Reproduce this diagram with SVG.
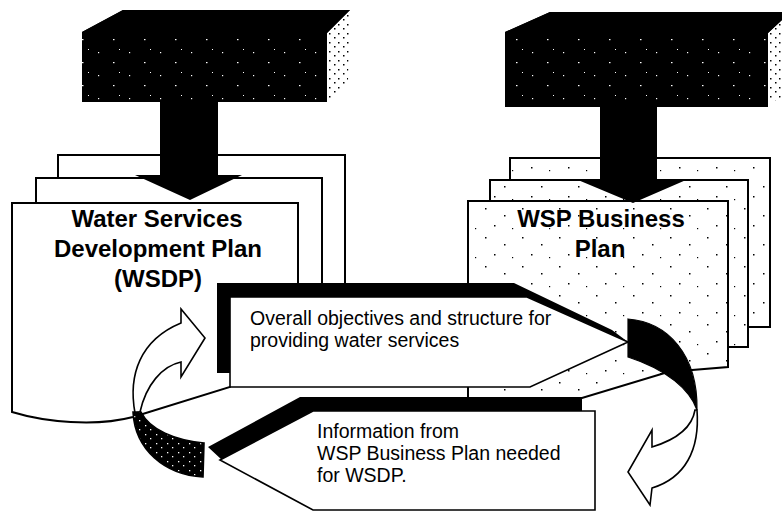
<svg xmlns="http://www.w3.org/2000/svg" width="782" height="513" viewBox="0 0 782 513">
<style>
.page{fill:#fff;stroke:#000;stroke-width:2}
.spage{fill:url(#stipple);stroke:#000;stroke-width:2}
.title{font-family:"Liberation Sans",Arial,sans-serif;font-weight:bold;font-size:24px;fill:#000;text-anchor:middle}
.label{font-family:"Liberation Sans",Arial,sans-serif;font-size:19.5px;fill:#000}
.shadow{fill:#000}
.face{fill:#fff;stroke:#000;stroke-width:1.6;stroke-linejoin:miter}
.arr{fill:#fff;stroke:#000;stroke-width:1.6;stroke-linejoin:miter}
.tail{fill:url(#specks2);stroke:#000;stroke-width:1.6}
</style>
<defs>
<pattern id="specks" width="31" height="23" patternUnits="userSpaceOnUse">
<rect width="31" height="23" fill="#000"/>
<rect x="5" y="6" width="1.2" height="1.2" fill="#fff"/>
<rect x="20" y="16" width="1.5" height="1.2" fill="#fff"/>
<rect x="26" y="3" width="1" height="1" fill="#fff"/>
</pattern>
<pattern id="specks2" width="11" height="9" patternUnits="userSpaceOnUse">
<rect width="11" height="9" fill="#000"/>
<rect x="2" y="2" width="1.3" height="1.3" fill="#fff"/>
<rect x="7" y="6" width="1.3" height="1.3" fill="#fff"/>
</pattern>
<pattern id="stipple" width="37" height="29" patternUnits="userSpaceOnUse">
<rect width="37" height="29" fill="#fff"/>
<rect x="4" y="5" width="1.5" height="1.5" fill="#000"/>
<rect x="23" y="12" width="1.5" height="1.5" fill="#000"/>
<rect x="13" y="22" width="1.5" height="1.5" fill="#000"/>
<rect x="31" y="25" width="1.2" height="1.2" fill="#000"/>
</pattern>
<pattern id="dither" width="9" height="9" patternUnits="userSpaceOnUse">
<rect width="9" height="9" fill="#fff"/>
<rect x="1" y="1" width="1.5" height="1.5" fill="#000"/>
<rect x="5" y="6" width="1.5" height="1.5" fill="#000"/>
</pattern>
</defs>

<g id="wsdp-plan">
<rect class="page" x="58" y="155" width="287" height="145"/>
<rect class="page" x="36" y="178" width="286" height="130"/>
<path class="page" d="M12,203 L298,203 L298,300 L230,387 L133,417 C95,427 45,422 12,412 Z"/>
<text class="title" x="157" y="227">Water Services</text>
<text class="title" x="158" y="257">Development Plan</text>
<text class="title" x="158" y="287">(WSDP)</text>
</g>

<g id="wsp-business-plan">
<rect class="spage" x="510" y="158" width="260" height="169"/>
<rect class="spage" x="490" y="180" width="258" height="167"/>
<path class="spage" d="M468,201 L728,201 L728,367 L668,372 L582,398 L468,398 Z"/>
<text class="title" x="601" y="227">WSP Business</text>
<text class="title" x="600" y="257">Plan</text>
</g>

<g id="source-left">
<polygon points="327,33 350,10 348,82 327,102" fill="url(#dither)"/>
<polygon points="82,32 123,10 350,10 327,33 327,102 82,102" fill="url(#specks)"/>
<polygon points="82,32 123,10 350,10 327,33" fill="#000"/>
</g>

<g id="source-right">
<polygon points="768,33 782,20 782,97 768,104" fill="url(#dither)"/>
<polygon points="505,32 550,12 782,12 782,20 768,33 768,107 505,107" fill="url(#specks)"/>
<polygon points="505,32 550,12 782,12 782,20 768,33" fill="#000"/>
</g>

<g id="connectors">
<polygon points="160,100 218,100 218,175 242,175 190,200 135,175 160,175" fill="#000"/>
<polygon points="600,105 657,105 657,180 686,180 633,203 578,180 600,180" fill="#000"/>

<g id="banner-objectives">
<polygon class="shadow" points="217,283 514,283 612,330 628,342 527,297 230,297 230,373 217,373"/>
<polygon class="face" points="230,297 527,297 628,342 530,387 230,387"/>
<text class="label" x="250" y="325">Overall objectives and structure for</text>
<text class="label" x="250" y="347">providing water services</text>
</g>

<g id="banner-information">
<polygon class="shadow" points="208,447 300,397 582,397 582,411 313,411 222,460"/>
<polygon class="face" points="220,460 313,411 595,411 595,510 313,510"/>
<text class="label" x="317" y="438">Information from</text>
<text class="label" x="317" y="460">WSP Business Plan needed</text>
<text class="label" x="317" y="482">for WSDP.</text>
</g>

<path class="arr" d="M135,413 C128,375 140,340 181,323 L181,309 L205,338 L181,377 L181,362 C162,366 146,385 140,412 Z"/>
<path class="tail" d="M133,412 C135,450 165,475 203,477 L204,443 C175,440 150,430 141,412 Z"/>

<path class="arr" d="M697,410 C700,450 685,478 652,488 L650,505 L628,472 L652,430 L652,447 C675,440 692,428 695,410 Z"/>
<path d="M628,319 C668,322 698,355 697,410 C690,390 668,370 628,357 Z" fill="#000" stroke="#000" stroke-width="1.2"/>
</g>
</svg>
